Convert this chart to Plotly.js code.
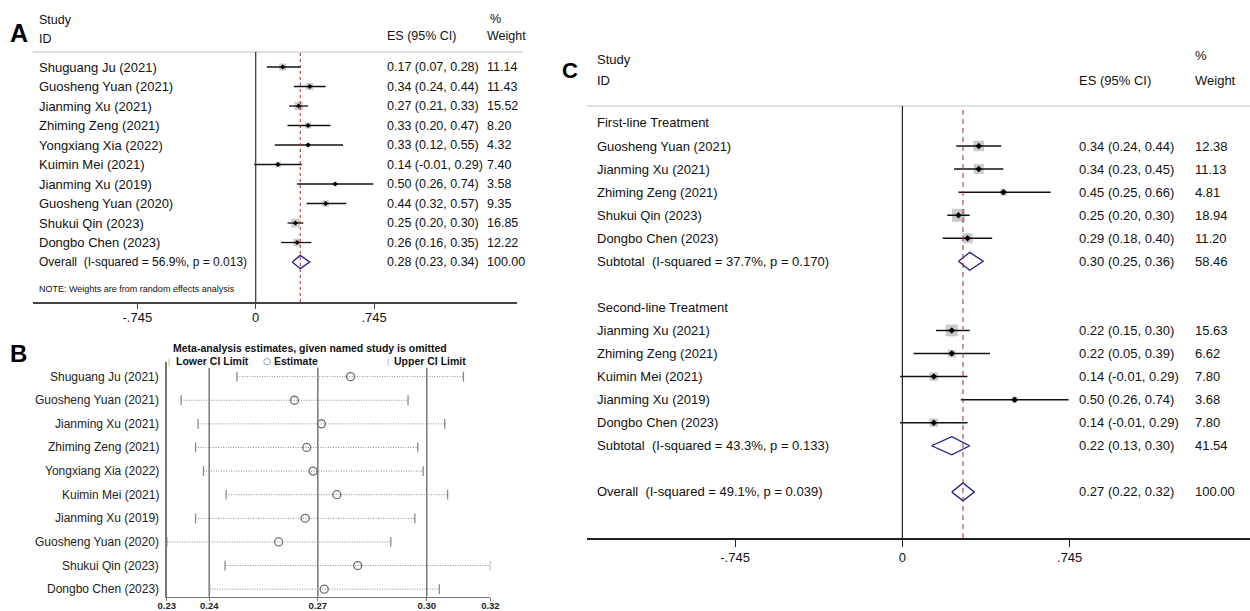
<!DOCTYPE html>
<html><head><meta charset="utf-8">
<script src="https://cdn.plot.ly/plotly-3.0.1.min.js"></script>
<style>html,body{margin:0;padding:0;background:#fff;}#chart{width:1250px;height:611px;}</style>
</head><body><div id="chart"></div>
<script>
// ================= Panel A : forest plot (all studies) =================
const studiesA = ["Shuguang Ju (2021)","Guosheng Yuan (2021)","Jianming Xu (2021)","Zhiming Zeng (2021)","Yongxiang Xia (2022)","Kuimin Mei (2021)","Jianming Xu (2019)","Guosheng Yuan (2020)","Shukui Qin (2023)","Dongbo Chen (2023)"];
const esA     = [0.17,0.34,0.27,0.33,0.33,0.14,0.50,0.44,0.25,0.26];
const loA     = [0.07,0.24,0.21,0.20,0.12,-0.01,0.26,0.32,0.20,0.16];
const hiA     = [0.28,0.44,0.33,0.47,0.55,0.29,0.74,0.57,0.30,0.35];
const weightA = [11.14,11.43,15.52,8.20,4.32,7.40,3.58,9.35,16.85,12.22];
const overallA = [0.28,0.23,0.34];          // ES, lower, upper
const overallWeightA = 100.00;
const overallLabelA = "Overall\u00a0 (I-squared = 56.9%, p = 0.013)";
const noteA = "NOTE: Weights are from random effects analysis";
const forestTicks = [-0.745, 0, 0.745];
const forestTickText = ["-.745","0",".745"];

// ================= Panel B : leave-one-out sensitivity =================
const studiesB = ["Shuguang Ju (2021)","Guosheng Yuan (2021)","Jianming Xu (2021)","Zhiming Zeng (2021)","Yongxiang Xia (2022)","Kuimin Mei (2021)","Jianming Xu (2019)","Guosheng Yuan (2020)","Shukui Qin (2023)","Dongbo Chen (2023)"];
const lowerB = [0.2495,0.2340,0.2387,0.2380,0.2402,0.2465,0.2380,0.2300,0.2462,0.2419];
const estB   = [0.2811,0.2655,0.2730,0.2689,0.2707,0.2773,0.2685,0.2611,0.2831,0.2738];
const upperB = [0.3125,0.2971,0.3073,0.2998,0.3013,0.3081,0.2990,0.2923,0.3200,0.3058];
const refLinesB  = [0.2418,0.2720,0.3023];   // overall lower CI, estimate, upper CI
const tickValsB  = [0.2300,0.2418,0.2720,0.3023,0.3200];
const tickTextB  = ["0.23","0.24","0.27","0.30","0.32"];
const titleB = "Meta-analysis estimates, given named study is omitted";

// ================= Panel C : subgroup forest plot =================
const groupNamesC = ["First-line Treatment","Second-line Treatment"];
const studiesC1 = ["Guosheng Yuan (2021)","Jianming Xu (2021)","Zhiming Zeng (2021)","Shukui Qin (2023)","Dongbo Chen (2023)"];
const esC1 = [0.34,0.34,0.45,0.25,0.29];
const loC1 = [0.24,0.23,0.25,0.20,0.18];
const hiC1 = [0.44,0.45,0.66,0.30,0.40];
const wC1  = [12.38,11.13,4.81,18.94,11.20];
const subC1 = [0.30,0.25,0.36]; const subWC1 = 58.46;
const subLabelC1 = "Subtotal\u00a0 (I-squared = 37.7%, p = 0.170)";
const studiesC2 = ["Jianming Xu (2021)","Zhiming Zeng (2021)","Kuimin Mei (2021)","Jianming Xu (2019)","Dongbo Chen (2023)"];
const esC2 = [0.22,0.22,0.14,0.50,0.14];
const loC2 = [0.15,0.05,-0.01,0.26,-0.01];
const hiC2 = [0.30,0.39,0.29,0.74,0.29];
const wC2  = [15.63,6.62,7.80,3.68,7.80];
const subC2 = [0.22,0.13,0.30]; const subWC2 = 41.54;
const subLabelC2 = "Subtotal\u00a0 (I-squared = 43.3%, p = 0.133)";
const overallC = [0.27,0.22,0.32]; const overallWC = 100.00;
const overallLabelC = "Overall\u00a0 (I-squared = 49.1%, p = 0.039)";

// ================= helpers =================
const W = 1250, H = 611;
const FONT = "Liberation Sans, Arial, Helvetica, sans-serif";
const px = x => x / W;
const py = y => 1 - y / H;
const f2 = v => v.toFixed(2);
const esText = (e,l,h) => f2(e) + " (" + f2(l) + ", " + f2(h) + ")";
const ann = [];
function txt(x, y, yref, text, size, opts) {
  ann.push(Object.assign({xref:'paper', yref:yref, x:x, y:y, text:text, showarrow:false,
    xanchor:'left', yanchor:'middle', font:{family:FONT, size:size, color:'#111'}}, opts || {}));
}
const traces = [];
const shapes = [];

function forest(xa, ya, rows, es, lo, hi, w, sqK, ciW, dotSize) {
  traces.push({type:'scatter', mode:'markers', x:es, y:rows, xaxis:xa, yaxis:ya, hoverinfo:'skip',
    marker:{symbol:'square', size:w.map(v => sqK*Math.sqrt(v)), color:'#b3b3b3', line:{width:0}}});
  traces.push({type:'scatter', mode:'markers', x:es, y:rows, xaxis:xa, yaxis:ya, hoverinfo:'skip',
    marker:{symbol:'diamond', size:dotSize, color:'#000'},
    error_x:{type:'data', symmetric:false, array:hi.map((h,i)=>h-es[i]), arrayminus:lo.map((l,i)=>es[i]-l),
      width:0, thickness:ciW, color:'#111'}});
}
function diamond(xa, ya, row, v, half) {
  traces.push({type:'scatter', mode:'lines', xaxis:xa, yaxis:ya, hoverinfo:'skip',
    x:[v[1], v[0], v[2], v[0], v[1]], y:[row, row-half, row, row+half, row],
    line:{color:'#1c1c8c', width:1.3}});
}

// ================= Panel A build =================
const rowsA = studiesA.map((_,i)=>i);
const overallRowA = studiesA.length;
forest('x','y', rowsA, esA, loA, hiA, weightA, 2.1, 1.3, 4);
diamond('x','y', overallRowA, overallA, 0.34);
const A_lab = px(36.5), A_es = px(385), A_w = px(484.5);
studiesA.forEach((s,i)=>{
  txt(A_lab, i, 'y', s, 13);
  txt(A_es, i, 'y', esText(esA[i],loA[i],hiA[i]), 12.5);
  txt(A_w, i, 'y', f2(weightA[i]), 12.5);
});
txt(A_lab, overallRowA, 'y', overallLabelA, 12);
txt(A_es, overallRowA, 'y', esText(overallA[0],overallA[1],overallA[2]), 12.5);
txt(A_w, overallRowA, 'y', f2(overallWeightA), 12.5);
txt(A_lab, overallRowA + 1.38, 'y', noteA, 9);
txt(A_lab, py(20), 'paper', "Study", 12.5);
txt(A_lab, py(39), 'paper', "ID", 12.5);
txt(A_es, py(36), 'paper', "ES (95% CI)", 12.5);
txt(A_w + px(3), py(19), 'paper', "%", 12.5);
txt(A_w, py(36), 'paper', "Weight", 12.5);
txt(px(19), py(33), 'paper', "<b>A</b>", 25, {xanchor:'center', font:{family:FONT,size:25,color:'#000'}});
shapes.push({type:'line', xref:'paper', yref:'paper', x0:px(32.9), x1:px(523), y0:py(52), y1:py(52), line:{color:'#d4d4d4', width:1.5}});
shapes.push({type:'line', xref:'x', yref:'y domain', x0:0, x1:0, y0:0, y1:1, line:{color:'#333', width:1.2}});
shapes.push({type:'line', xref:'x', yref:'y domain', x0:overallA[0], x1:overallA[0], y0:0, y1:1, line:{color:'#b22222', width:1, dash:'3px,3px'}});

// ================= Panel B build =================
const rowsB = studiesB.map((_,i)=>i);
const dotX = [], dotY = [];
rowsB.forEach(i => { dotX.push(lowerB[i], upperB[i], null); dotY.push(i, i, null); });
traces.push({type:'scatter', mode:'lines', x:dotX, y:dotY, xaxis:'x2', yaxis:'y2', hoverinfo:'skip',
  line:{color:'#8c8c8c', width:1, dash:'1px,1.5px'}});
traces.push({type:'scatter', mode:'markers', x:lowerB, y:rowsB, xaxis:'x2', yaxis:'y2', hoverinfo:'skip',
  marker:{symbol:'line-ns-open', size:7, color:'#8a8a8a', line:{color:'#8a8a8a', width:1.3}}});
traces.push({type:'scatter', mode:'markers', x:upperB, y:rowsB, xaxis:'x2', yaxis:'y2', hoverinfo:'skip',
  marker:{symbol:'line-ns-open', size:7, color:'#8a8a8a', line:{color:'#8a8a8a', width:1.3}}});
traces.push({type:'scatter', mode:'markers', x:estB, y:rowsB, xaxis:'x2', yaxis:'y2', hoverinfo:'skip',
  marker:{symbol:'circle-open', size:8, color:'#6e6e6e', line:{color:'#6e6e6e', width:1.3}}});
refLinesB.forEach(v => shapes.push({type:'line', xref:'x2', yref:'y2 domain', x0:v, x1:v, y0:0, y1:0.975,
  line:{color:'#777', width:1.5}, layer:'below'}));
studiesB.forEach((s,i)=> txt(px(160.7), i, 'y2', s, 12, {xanchor:'right', font:{family:FONT,size:12,color:'#222'}}));
txt(px(310), py(348), 'paper', "<b>"+titleB+"</b>", 10.5, {xanchor:'center'});
txt(px(169.3), py(361), 'paper', "|", 8, {xanchor:'center', font:{family:FONT,size:8,color:'#999'}});
txt(px(174), py(361), 'paper', "<b>Lower CI Limit</b>", 10.5);
txt(px(266.5), py(361), 'paper', "○", 9, {xanchor:'center', font:{family:'DejaVu Sans',size:9,color:'#666'}});
txt(px(271.5), py(361), 'paper', "<b>Estimate</b>", 10.5);
txt(px(388.3), py(361), 'paper', "|", 8, {xanchor:'center', font:{family:FONT,size:8,color:'#999'}});
txt(px(392.3), py(361), 'paper', "<b>Upper CI Limit</b>", 10.5);
txt(px(18.5), py(353), 'paper', "<b>B</b>", 24, {xanchor:'center', font:{family:FONT,size:24,color:'#000'}});

// ================= Panel C build =================
const rowsC1 = studiesC1.map((_,i)=>i+1);
const subRowC1 = studiesC1.length + 1;
const grpRowC2 = subRowC1 + 2;
const rowsC2 = studiesC2.map((_,i)=>grpRowC2+1+i);
const subRowC2 = grpRowC2 + studiesC2.length + 1;
const overallRowC = subRowC2 + 2;
forest('x3','y3', rowsC1, esC1, loC1, hiC1, wC1, 3.0, 1.5, 5);
forest('x3','y3', rowsC2, esC2, loC2, hiC2, wC2, 3.0, 1.5, 5);
diamond('x3','y3', subRowC1, subC1, 0.39);
diamond('x3','y3', subRowC2, subC2, 0.39);
diamond('x3','y3', overallRowC, overallC, 0.39);
const C_lab = px(595), C_es = px(1077), C_w = px(1193);
txt(C_lab, 0, 'y3', groupNamesC[0], 13);
studiesC1.forEach((s,i)=>{
  txt(C_lab, rowsC1[i], 'y3', s, 13);
  txt(C_es, rowsC1[i], 'y3', esText(esC1[i],loC1[i],hiC1[i]), 13);
  txt(C_w, rowsC1[i], 'y3', f2(wC1[i]), 13);
});
txt(C_lab, subRowC1, 'y3', subLabelC1, 13);
txt(C_es, subRowC1, 'y3', esText(subC1[0],subC1[1],subC1[2]), 13);
txt(C_w, subRowC1, 'y3', f2(subWC1), 13);
txt(C_lab, grpRowC2, 'y3', groupNamesC[1], 13);
studiesC2.forEach((s,i)=>{
  txt(C_lab, rowsC2[i], 'y3', s, 13);
  txt(C_es, rowsC2[i], 'y3', esText(esC2[i],loC2[i],hiC2[i]), 13);
  txt(C_w, rowsC2[i], 'y3', f2(wC2[i]), 13);
});
txt(C_lab, subRowC2, 'y3', subLabelC2, 13);
txt(C_es, subRowC2, 'y3', esText(subC2[0],subC2[1],subC2[2]), 13);
txt(C_w, subRowC2, 'y3', f2(subWC2), 13);
txt(C_lab, overallRowC, 'y3', overallLabelC, 13);
txt(C_es, overallRowC, 'y3', esText(overallC[0],overallC[1],overallC[2]), 13);
txt(C_w, overallRowC, 'y3', f2(overallWC), 13);
txt(C_lab, py(59), 'paper', "Study", 13);
txt(C_lab, py(81), 'paper', "ID", 13);
txt(C_es, py(80), 'paper', "ES (95% CI)", 13);
txt(C_w, py(55), 'paper', "%", 13);
txt(C_w, py(80), 'paper', "Weight", 13);
txt(px(570), py(70), 'paper', "<b>C</b>", 22, {xanchor:'center', font:{family:FONT,size:22,color:'#000'}});
shapes.push({type:'line', xref:'paper', yref:'paper', x0:px(587), x1:1, y0:py(106), y1:py(106), line:{color:'#d4d4d4', width:1.5}});
shapes.push({type:'line', xref:'x3', yref:'y3 domain', x0:0, x1:0, y0:0, y1:1, line:{color:'#222', width:1.2}});
shapes.push({type:'line', xref:'x3', yref:'y3 domain', x0:overallC[0], x1:overallC[0], y0:0, y1:1, line:{color:'#b22222', width:1, dash:'5px,4px'}});

// ================= layout =================
const hidden = {showgrid:false, zeroline:false, showticklabels:false, ticks:'', showline:false, fixedrange:true};
const layout = {
  width:W, height:H, margin:{l:0,r:0,t:0,b:0}, showlegend:false,
  paper_bgcolor:'#fff', plot_bgcolor:'rgba(0,0,0,0)',
  font:{family:FONT, color:'#111'},
  xaxis:{domain:[px(32.9), px(517)], range:[-1.402, 1.644], anchor:'y', showgrid:false, zeroline:false,
    showline:true, linecolor:'#444', linewidth:1.5, ticks:'outside', ticklen:5, tickcolor:'#444', tickwidth:1,
    ticklabelstandoff:-2,
    tickvals:forestTicks, ticktext:forestTickText, tickfont:{family:FONT, size:13, color:'#111'}, fixedrange:true},
  yaxis:Object.assign({domain:[py(302), py(52)], range:[12.05, -0.77], anchor:'x'}, hidden),
  xaxis2:{domain:[px(166.8), px(490.4)], range:[0.23, 0.32], anchor:'y2', showgrid:false, zeroline:false,
    showline:true, linecolor:'#777', linewidth:1.5, ticks:'outside', ticklen:3, tickcolor:'#777',
    ticklabelstandoff:-4,
    tickvals:tickValsB, ticktext:tickTextB, tickfont:{family:FONT, size:9.5, color:'#222', weight:'bold'}, fixedrange:true},
  yaxis2:{domain:[py(596.7), py(362)], range:[9.32, -0.62], anchor:'x2', showgrid:false, zeroline:false,
    showticklabels:false, ticks:'', showline:true, linecolor:'#777', linewidth:1.5, fixedrange:true},
  xaxis3:{domain:[px(587.3), 1], range:[-1.403, 1.548], anchor:'y3', showgrid:false, zeroline:false,
    showline:true, linecolor:'#222', linewidth:1.5, ticks:'outside', ticklen:7, tickcolor:'#222', tickwidth:1,
    tickvals:forestTicks, ticktext:forestTickText, tickfont:{family:FONT, size:13, color:'#111'}, fixedrange:true},
  yaxis3:Object.assign({domain:[py(538), py(106)], range:[18.0, -0.737], anchor:'x3'}, hidden),
  annotations:ann, shapes:shapes
};
Plotly.newPlot('chart', traces, layout, {displayModeBar:false, staticPlot:true});
</script></body></html>
